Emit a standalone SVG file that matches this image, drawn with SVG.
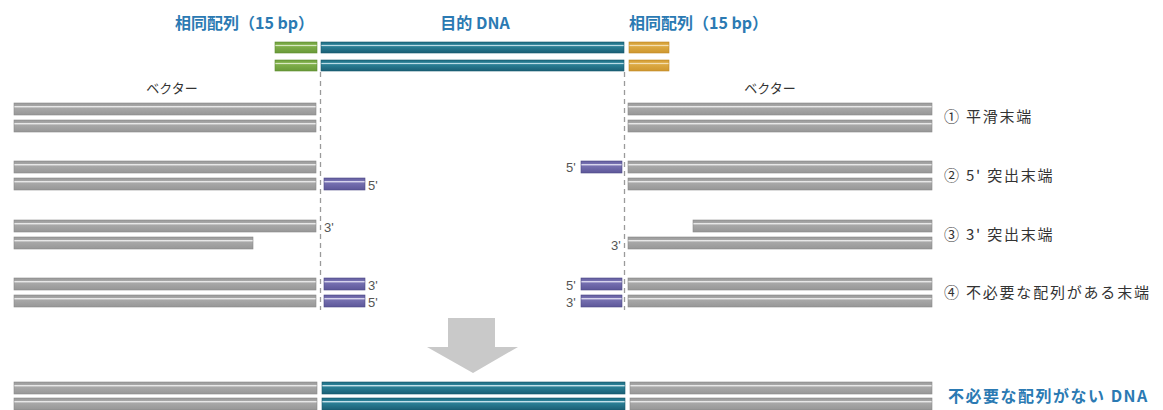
<svg xmlns="http://www.w3.org/2000/svg" width="1163" height="410" viewBox="0 0 1163 410">
<defs>
<linearGradient id="gGrey" x1="0" y1="0" x2="0" y2="1">
<stop offset="0" stop-color="#999"/><stop offset="0.22" stop-color="#a6a6a6"/><stop offset="0.3" stop-color="#efefef"/><stop offset="0.42" stop-color="#a8a8a8"/><stop offset="1" stop-color="#979797"/>
</linearGradient>
<linearGradient id="gTeal" x1="0" y1="0" x2="0" y2="1">
<stop offset="0" stop-color="#1d6a80"/><stop offset="0.22" stop-color="#2a7f95"/><stop offset="0.3" stop-color="#d4ecf4"/><stop offset="0.42" stop-color="#2a7f95"/><stop offset="1" stop-color="#1a5f75"/>
</linearGradient>
<linearGradient id="gGreen" x1="0" y1="0" x2="0" y2="1">
<stop offset="0" stop-color="#6e9e3c"/><stop offset="0.22" stop-color="#7fae4a"/><stop offset="0.3" stop-color="#e8f3d6"/><stop offset="0.42" stop-color="#7fae4a"/><stop offset="1" stop-color="#699a38"/>
</linearGradient>
<linearGradient id="gGold" x1="0" y1="0" x2="0" y2="1">
<stop offset="0" stop-color="#d29a30"/><stop offset="0.22" stop-color="#dcaa44"/><stop offset="0.3" stop-color="#f8e8c4"/><stop offset="0.42" stop-color="#dcaa44"/><stop offset="1" stop-color="#cf972e"/>
</linearGradient>
<linearGradient id="gPurple" x1="0" y1="0" x2="0" y2="1">
<stop offset="0" stop-color="#625c9e"/><stop offset="0.22" stop-color="#7670b0"/><stop offset="0.3" stop-color="#e2e0f4"/><stop offset="0.42" stop-color="#7670b0"/><stop offset="1" stop-color="#5d5799"/>
</linearGradient>
<style>
.grey{fill:url(#gGrey);stroke:#8a8a8a;stroke-width:0.6}
.teal{fill:url(#gTeal);stroke:#1a5a6e;stroke-width:0.6}
.green{fill:url(#gGreen);stroke:#5e8c30;stroke-width:0.6}
.gold{fill:url(#gGold);stroke:#bf8a28;stroke-width:0.6}
.purple{fill:url(#gPurple);stroke:#4e4a88;stroke-width:0.6}
.dash{stroke:#9a9a9a;stroke-width:1.3;stroke-dasharray:5 4;fill:none}
.title{font-family:"Noto Sans CJK JP","Noto Sans",sans-serif;font-weight:bold;font-size:16px;fill:#2b7ab3}
.lbl{font-family:"Noto Sans CJK JP","Noto Sans",sans-serif;font-size:15px;fill:#333;letter-spacing:1.8px}
.end{font-family:"Liberation Sans Narrow","Liberation Sans",sans-serif;font-size:13px;fill:#555}
.vec{font-family:"Noto Sans CJK JP",sans-serif;font-size:13px;fill:#333}
</style>
</defs>
<rect width="1163" height="410" fill="#fff"/>

<g id="connectors">
<line class="dash" x1="320.5" y1="72" x2="320.5" y2="310"/>
<line class="dash" x1="624.5" y1="72" x2="624.5" y2="310"/>
</g>

<g id="insert">
<text class="title" x="175" y="29">相同配列（15 bp）</text>
<text class="title" x="475" y="29" text-anchor="middle">目的 DNA</text>
<text class="title" x="629" y="29">相同配列（15 bp）</text>
<rect class="green" x="275" y="42" width="42" height="11"/>
<rect class="green" x="275" y="60" width="42" height="11"/>
<rect class="teal" x="321" y="42" width="303" height="11"/>
<rect class="teal" x="321" y="60" width="303" height="11"/>
<rect class="gold" x="629" y="42" width="40" height="11"/>
<rect class="gold" x="629" y="60" width="40" height="11"/>
</g>

<g id="vector-labels">
<text class="vec" x="172" y="93" text-anchor="middle">ベクター</text>
<text class="vec" x="770" y="93" text-anchor="middle">ベクター</text>
</g>

<g id="row1">
<rect class="grey" x="14" y="103" width="302" height="12"/>
<rect class="grey" x="14" y="120" width="302" height="12"/>
<rect class="grey" x="628" y="103" width="304" height="12"/>
<rect class="grey" x="628" y="120" width="304" height="12"/>
<text class="lbl" x="944" y="122">① 平滑末端</text>
</g>

<g id="row2">
<rect class="grey" x="14" y="161" width="302" height="12"/>
<rect class="grey" x="14" y="178" width="302" height="12"/>
<rect class="purple" x="324" y="178" width="41" height="12"/>
<text class="end" x="368" y="190">5'</text>
<rect class="purple" x="581" y="161" width="41" height="12"/>
<text class="end" x="566" y="172">5'</text>
<rect class="grey" x="628" y="161" width="304" height="12"/>
<rect class="grey" x="628" y="178" width="304" height="12"/>
<text class="lbl" x="944" y="181">② 5' 突出末端</text>
</g>

<g id="row3">
<rect class="grey" x="14" y="220" width="302" height="12"/>
<rect class="grey" x="14" y="237" width="239" height="12"/>
<text class="end" x="324" y="232">3'</text>
<rect class="grey" x="693" y="220" width="239" height="12"/>
<rect class="grey" x="628" y="237" width="304" height="12"/>
<text class="end" x="611" y="250">3'</text>
<text class="lbl" x="944" y="240">③ 3' 突出末端</text>
</g>

<g id="row4">
<rect class="grey" x="14" y="278" width="302" height="12"/>
<rect class="grey" x="14" y="295" width="302" height="12"/>
<rect class="purple" x="324" y="278" width="41" height="12"/>
<rect class="purple" x="324" y="295" width="41" height="12"/>
<text class="end" x="368" y="290">3'</text>
<text class="end" x="368" y="307">5'</text>
<rect class="purple" x="581" y="278" width="41" height="12"/>
<rect class="purple" x="581" y="295" width="41" height="12"/>
<text class="end" x="566" y="290">5'</text>
<text class="end" x="566" y="307">3'</text>
<rect class="grey" x="628" y="278" width="304" height="12"/>
<rect class="grey" x="628" y="295" width="304" height="12"/>
<text class="lbl" x="944" y="298">④ 不必要な配列がある末端</text>
</g>

<g id="arrow">
<polygon points="448,318 495,318 495,347 518,347 473,373 427,347 448,347" fill="#c9c9c9"/>
</g>

<g id="result">
<rect class="grey" x="14" y="382" width="303" height="12"/>
<rect class="grey" x="14" y="398" width="303" height="12"/>
<rect class="teal" x="322" y="382" width="303" height="12"/>
<rect class="teal" x="322" y="398" width="303" height="12"/>
<rect class="grey" x="630" y="382" width="302" height="12"/>
<rect class="grey" x="630" y="398" width="302" height="12"/>
<text class="title" x="948" y="402" font-size="17" letter-spacing="1.5">不必要な配列がない DNA</text>
</g>
</svg>
